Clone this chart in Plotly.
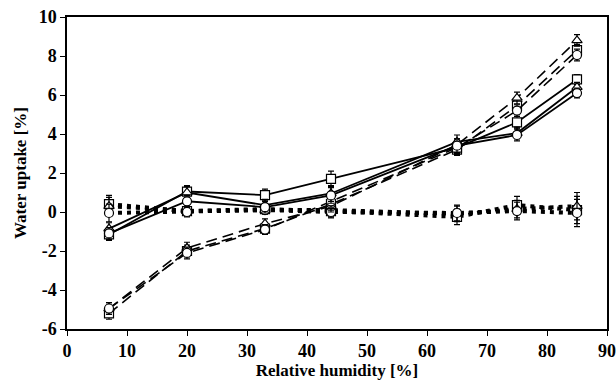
import plotly.graph_objects as go

rh = [7, 20, 33, 44, 65, 75, 85]

# Solid series
solid_sq = [-1.15, 1.05, 0.87, 1.70, 3.30, 4.60, 6.80]
solid_tr = [-0.85, 1.00, 0.35, 0.95, 3.60, 4.05, 6.40]
solid_ci = [-1.10, 0.55, 0.25, 0.85, 3.40, 3.95, 6.10]
solid_err = [0.30, 0.30, 0.30, 0.40, 0.35, 0.30, 0.25]

# Dashed series
dash_sq = [-5.20, -2.00, -0.85, 0.40, 3.20, 5.45, 8.30]
dash_tr = [-4.95, -1.85, -0.60, 0.30, 3.45, 5.85, 8.80]
dash_ci = [-4.95, -2.10, -0.90, 0.55, 3.30, 5.20, 8.05]
dash_err = [0.30, 0.30, 0.25, 0.30, 0.30, 0.30, 0.30]

# Dotted series
dot_sq = [0.40, 0.05, 0.15, 0.05, -0.25, 0.35, 0.10]
dot_tr = [0.30, 0.05, 0.10, 0.10, -0.10, 0.15, 0.30]
dot_ci = [-0.05, 0.00, 0.10, 0.00, -0.05, 0.05, -0.05]
dot_err = [0.45, 0.25, 0.20, 0.30, 0.40, 0.45, 0.70]

yticks = [-6, -4, -2, 0, 2, 4, 6, 8, 10]
xticks = [0, 10, 20, 30, 40, 50, 60, 70, 80, 90]

fig = go.Figure()

def add(y, err, symbol, dash, width):
    fig.add_trace(go.Scatter(
        x=rh, y=y, mode="lines+markers",
        line=dict(color="black", width=width, dash=dash),
        marker=dict(symbol=symbol, size=9, color="white",
                    line=dict(color="black", width=1.2)),
        error_y=dict(type="data", array=err, visible=True,
                     color="black", thickness=1.2, width=3),
        showlegend=False,
    ))

for y, s in [(dot_sq, "square"), (dot_tr, "triangle-up"), (dot_ci, "circle")]:
    add(y, dot_err, s, "4px,5px", 4)
for y, s in [(dash_sq, "square"), (dash_tr, "triangle-up"), (dash_ci, "circle")]:
    add(y, dash_err, s, "11px,6px", 1.6)
for y, s in [(solid_sq, "square"), (solid_tr, "triangle-up"), (solid_ci, "circle")]:
    add(y, solid_err, s, "solid", 1.8)

font = dict(family="Liberation Serif, Times New Roman, serif", color="black")

fig.update_layout(
    width=616, height=381,
    margin=dict(l=67, r=9, t=17, b=52),
    paper_bgcolor="white", plot_bgcolor="white",
    font=font,
    xaxis=dict(range=[0, 90], tickvals=xticks, ticktext=[f"<b>{v}</b>" for v in xticks],
               ticks="outside", ticklen=5, tickwidth=1.2, tickcolor="black",
               showline=True, linecolor="black", linewidth=1.5, mirror=True,
               showgrid=False, zeroline=False, automargin=False,
               tickfont=dict(size=18, **font),
               title=dict(text="<b>Relative humidity [%]</b>", font=dict(size=17, **font), standoff=2)),
    yaxis=dict(range=[-6, 10], tickvals=yticks,
               ticktext=[f"<b>{v}</b>" for v in yticks],
               ticks="outside", ticklen=5, tickwidth=1.2, tickcolor="black",
               showline=True, linecolor="black", linewidth=1.5, mirror=True,
               showgrid=False, zeroline=False, automargin=False,
               tickfont=dict(size=18, **font),
               title=dict(text="<b>Water uptake [%]</b>", font=dict(size=17, **font), standoff=8)),
)

fig.write_html("out.html")
